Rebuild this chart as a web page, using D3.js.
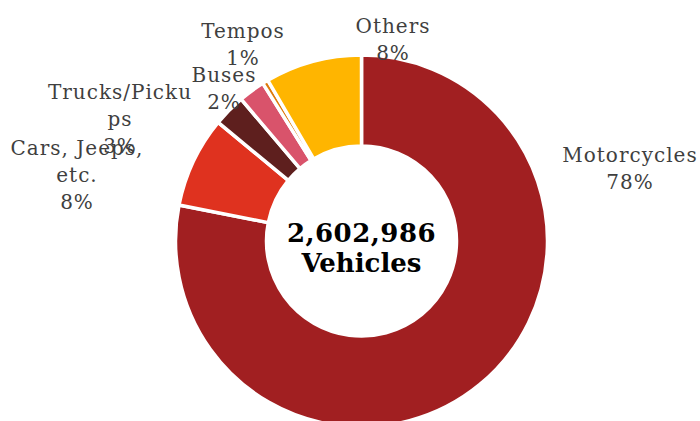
<!DOCTYPE html>
<html>
<head>
<meta charset="utf-8">
<script src="https://cdn.jsdelivr.net/npm/d3@7"></script>
<style>
  html, body { margin: 0; padding: 0; background: #fff; overflow: hidden; }
  svg { display: block; }
</style>
</head>
<body>
<svg id="chart" width="700" height="421"></svg>
<script>
// Registered vehicles by type
const categories = ["Motorcycles", "Cars, Jeeps, etc.", "Trucks/Pickups", "Buses", "Tempos", "Others"];
const vehicleCounts = [2032932, 205636, 72884, 59869, 13100, 218565];
// Label text as wrapped on the chart
const labelLines = [
  ["Motorcycles"],
  ["Cars, Jeeps,", "etc."],
  ["Trucks/Picku", "ps"],
  ["Buses"],
  ["Tempos"],
  ["Others"]
];
const centerCaption = "Vehicles";

const colors = ["#A11F21", "#DF321F", "#5E1F1E", "#D9536B", "#DE7A0C", "#FFB500"];

// Label anchors (centre x, first baseline y)
const labelPos = [
  [630, 162],
  [77, 155],
  [120, 99],
  [224, 82],
  [243, 38],
  [393, 33]
];

const W = 700, H = 421;
const cx = 361.5, cy = 241;
const outerR = 186, innerR = 95;
const lineH = 27;

const svg = d3.select("#chart");

const data = categories.map((c, i) => ({ name: c, value: vehicleCounts[i], i }));
const total = d3.sum(vehicleCounts);

const pie = d3.pie().value(d => d.value).sort(null);
const arc = d3.arc().innerRadius(innerR).outerRadius(outerR);
const color = d3.scaleOrdinal().domain(categories).range(colors);

const g = svg.append("g").attr("transform", `translate(${cx},${cy})`);

g.selectAll("path.slice")
  .data(pie(data))
  .join("path")
  .attr("class", "slice")
  .attr("d", arc)
  .attr("fill", d => color(d.data.name))
  .attr("stroke", "#fff")
  .attr("stroke-width", 3.5)
  .attr("stroke-linejoin", "miter");

// Category labels with share of total
const pct = v => Math.round(v / total * 100) + "%";

const labels = svg.append("g")
  .attr("font-family", "'DejaVu Serif', Georgia, serif")
  .attr("font-size", 20)
  .attr("letter-spacing", "1px")
  .attr("fill", "#3f3f3f")
  .attr("text-anchor", "middle");

data.forEach((d, i) => {
  const [x, y] = labelPos[i];
  const lines = labelLines[i].concat([pct(d.value)]);
  const t = labels.append("text").attr("x", x).attr("y", y);
  lines.forEach((ln, k) => {
    t.append("tspan").attr("x", x).attr("y", y + k * lineH).text(ln);
  });
});

// Total in the hole
const centre = svg.append("g")
  .attr("font-family", "'DejaVu Serif', Georgia, serif")
  .attr("font-weight", "bold")
  .attr("font-size", 26)
  .attr("fill", "#000")
  .attr("text-anchor", "middle");

centre.append("text").attr("x", cx).attr("y", 242).attr("letter-spacing", "0.5px").text(d3.format(",")(total));
centre.append("text").attr("x", cx).attr("y", 272).text(centerCaption);
</script>
</body>
</html>
